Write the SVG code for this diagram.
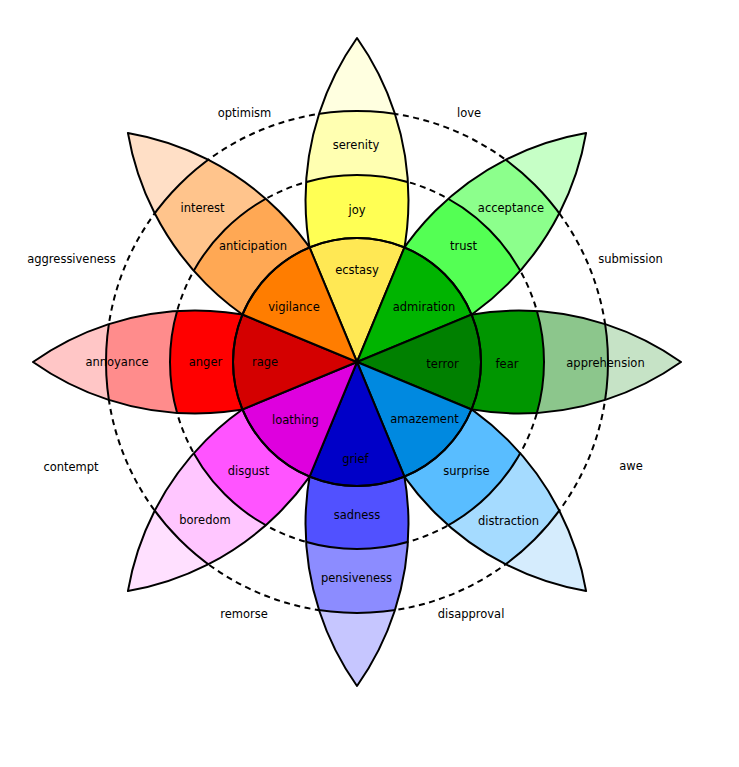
<svg xmlns="http://www.w3.org/2000/svg" width="739" height="767" viewBox="0 0 739 767">
<style>
text{font-family:"DejaVu Sans","Liberation Sans",sans-serif;font-size:11.5px;fill:#000;text-anchor:middle}
.ln{stroke:#000;stroke-width:2;stroke-linejoin:round}
.dash{fill:none;stroke:#000;stroke-width:2;stroke-dasharray:6,4.5}
</style>
<defs>
<clipPath id="lens" clipPathUnits="userSpaceOnUse"><path d="M357,362 A280.6,280.6 0 0 1 357,38 A280.6,280.6 0 0 1 357,362 Z"/></clipPath>
<path id="lensShape" d="M357,362 A280.6,280.6 0 0 1 357,38 A280.6,280.6 0 0 1 357,362 Z"/>
<path id="sector" d="M357,362 L309.55,247.44 A124,124 0 0 1 404.45,247.44 Z"/>
</defs>
<rect width="739" height="767" fill="#fff"/>
<g id="guides">
<circle class="dash" cx="357" cy="362" r="251"/>
<circle class="dash" cx="357" cy="362" r="187"/>
</g>

<g id="petal-joy">
<g transform="rotate(0 357 362)">
<use href="#lensShape" fill="#ffffe0"/>
<g clip-path="url(#lens)"><circle class="ln" cx="357" cy="362" r="251" fill="#ffffb1"/><circle class="ln" cx="357" cy="362" r="187" fill="#ffff54"/></g>
<use href="#lensShape" class="ln" fill="none"/>
</g>
<text x="356" y="149">serenity</text><text x="357" y="214">joy</text>
</g>

<g id="petal-trust">
<g transform="rotate(45 357 362)">
<use href="#lensShape" fill="#c6ffc6"/>
<g clip-path="url(#lens)"><circle class="ln" cx="357" cy="362" r="251" fill="#8cff8c"/><circle class="ln" cx="357" cy="362" r="187" fill="#54ff54"/></g>
<use href="#lensShape" class="ln" fill="none"/>
</g>
<text x="511" y="212">acceptance</text><text x="463.5" y="250">trust</text>
</g>

<g id="petal-fear">
<g transform="rotate(90 357 362)">
<use href="#lensShape" fill="#c6e3c6"/>
<g clip-path="url(#lens)"><circle class="ln" cx="357" cy="362" r="251" fill="#8cc68c"/><circle class="ln" cx="357" cy="362" r="187" fill="#009600"/></g>
<use href="#lensShape" class="ln" fill="none"/>
</g>
<text x="605.5" y="367">apprehension</text><text x="507" y="368">fear</text>
</g>

<g id="petal-surprise">
<g transform="rotate(135 357 362)">
<use href="#lensShape" fill="#d5ecfd"/>
<g clip-path="url(#lens)"><circle class="ln" cx="357" cy="362" r="251" fill="#a5dbff"/><circle class="ln" cx="357" cy="362" r="187" fill="#59bdff"/></g>
<use href="#lensShape" class="ln" fill="none"/>
</g>
<text x="508.5" y="524.5">distraction</text><text x="466.5" y="474.5">surprise</text>
</g>

<g id="petal-sadness">
<g transform="rotate(180 357 362)">
<use href="#lensShape" fill="#c6c6ff"/>
<g clip-path="url(#lens)"><circle class="ln" cx="357" cy="362" r="251" fill="#8c8cff"/><circle class="ln" cx="357" cy="362" r="187" fill="#5151ff"/></g>
<use href="#lensShape" class="ln" fill="none"/>
</g>
<text x="356.5" y="582">pensiveness</text><text x="357" y="519">sadness</text>
</g>

<g id="petal-disgust">
<g transform="rotate(225 357 362)">
<use href="#lensShape" fill="#ffe0ff"/>
<g clip-path="url(#lens)"><circle class="ln" cx="357" cy="362" r="251" fill="#ffc6ff"/><circle class="ln" cx="357" cy="362" r="187" fill="#ff54ff"/></g>
<use href="#lensShape" class="ln" fill="none"/>
</g>
<text x="205" y="524">boredom</text><text x="248.5" y="475">disgust</text>
</g>

<g id="petal-anger">
<g transform="rotate(270 357 362)">
<use href="#lensShape" fill="#ffc6c6"/>
<g clip-path="url(#lens)"><circle class="ln" cx="357" cy="362" r="251" fill="#ff8c8c"/><circle class="ln" cx="357" cy="362" r="187" fill="#ff0000"/></g>
<use href="#lensShape" class="ln" fill="none"/>
</g>
<text x="117" y="366">annoyance</text><text x="205.5" y="366">anger</text>
</g>

<g id="petal-anticipation">
<g transform="rotate(315 357 362)">
<use href="#lensShape" fill="#ffdfc6"/>
<g clip-path="url(#lens)"><circle class="ln" cx="357" cy="362" r="251" fill="#ffc48c"/><circle class="ln" cx="357" cy="362" r="187" fill="#ffa854"/></g>
<use href="#lensShape" class="ln" fill="none"/>
</g>
<text x="202.5" y="212">interest</text><text x="253" y="250">anticipation</text>
</g>

<g id="ecstasy"><use href="#sector" class="ln" fill="#ffe854" transform="rotate(0 357 362)"/><text x="357" y="274">ecstasy</text></g>
<g id="admiration"><use href="#sector" class="ln" fill="#00b400" transform="rotate(45 357 362)"/><text x="424" y="310.5">admiration</text></g>
<g id="terror"><use href="#sector" class="ln" fill="#008000" transform="rotate(90 357 362)"/><text x="442.5" y="368">terror</text></g>
<g id="amazement"><use href="#sector" class="ln" fill="#0089e0" transform="rotate(135 357 362)"/><text x="424.5" y="422.5">amazement</text></g>
<g id="grief"><use href="#sector" class="ln" fill="#0000c8" transform="rotate(180 357 362)"/><text x="355.5" y="463">grief</text></g>
<g id="loathing"><use href="#sector" class="ln" fill="#de00de" transform="rotate(225 357 362)"/><text x="295.5" y="423.5">loathing</text></g>
<g id="rage"><use href="#sector" class="ln" fill="#d40000" transform="rotate(270 357 362)"/><text x="265" y="366">rage</text></g>
<g id="vigilance"><use href="#sector" class="ln" fill="#ff7d00" transform="rotate(315 357 362)"/><text x="294" y="310.5">vigilance</text></g>
<circle cx="357" cy="362" r="124" fill="none" stroke="#000" stroke-width="2"/>

<g id="dyads">
<text x="244.5" y="116.5">optimism</text>
<text x="469" y="116.5">love</text>
<text x="630.5" y="262.5">submission</text>
<text x="631" y="470">awe</text>
<text x="471" y="618">disapproval</text>
<text x="244" y="618">remorse</text>
<text x="71" y="470.5">contempt</text>
<text x="71.5" y="262.5">aggressiveness</text>
</g>
</svg>
